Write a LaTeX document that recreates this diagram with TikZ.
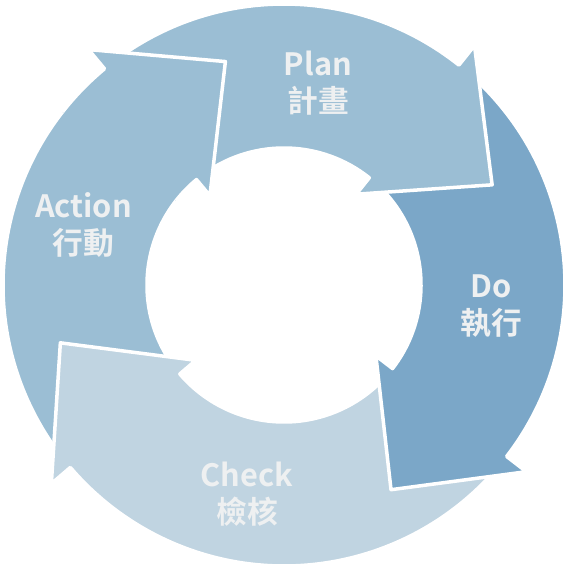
\documentclass[tikz,border=0pt]{standalone}
\usepackage{fontspec}
\setmainfont{Noto Sans CJK TC}[BoldFont={Noto Sans CJK TC Bold}]

\definecolor{planBlue}{HTML}{9BBED4}
\definecolor{doBlue}{HTML}{7BA7C8}
\definecolor{checkBlue}{HTML}{C0D4E1}
\definecolor{labelGray}{HTML}{EEF0F1}

% colour, tail angle, head base angle, tip angle
\newcommand{\cyclearrow}[4]{%
  \filldraw[arrowshape, fill=#1] (#2:281) arc[start angle=#2, end angle=#3, radius=281]
    -- (#3:306) -- (#4:231) -- (#3:116) -- (#3:137)
    arc[start angle=#3, end angle=#2, radius=137] -- cycle;}

\begin{document}
\begin{tikzpicture}[x=0.02cm, y=0.02cm,
  arrowshape/.style={draw=white, line width=2pt, line join=round},
  every node/.style={font=\fontsize{17.5}{21}\selectfont\bfseries, text=labelGray, align=center}]
  \useasboundingbox (-284,-282) rectangle (283,285);
  \cyclearrow{planBlue}{-144}{-230.3}{-255.3}
  \cyclearrow{checkBlue}{-42}{-139.5}{-165.5}
  \cyclearrow{doBlue}{47}{-37.6}{-62.4}
  \cyclearrow{planBlue}{125}{51.5}{25.7}
  \begin{scope}
    \clip (0,0) -- (95:340) arc[start angle=95, end angle=142, radius=340] -- cycle;
    \cyclearrow{planBlue}{-144}{-230.3}{-255.3}
  \end{scope}
  \node (plan) at (34,202) {Plan\\計畫};
  \node (action) at (-200.5,60) {Action\\行動};
  \node (do) at (207,-21) {Do\\執行};
  \node (check) at (-37,-209) {Check\\檢核};
\end{tikzpicture}
\end{document}
